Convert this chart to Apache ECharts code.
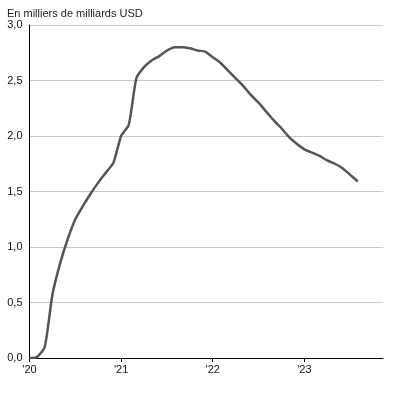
<!DOCTYPE html>
<html>
<head>
<meta charset="utf-8">
<script src="https://cdn.jsdelivr.net/npm/echarts@6/dist/echarts.min.js"></script>
<style>
html,body{margin:0;padding:0;background:#fff;}
#c{width:398px;height:393px;}
</style>
</head>
<body>
<div id="c"></div>
<script>
// Months since January 2020
const months = [0,1,2,3,4,5,6,7,8,9,10,11,12,13,14,15,16,17,18,19,20,21,22,23,24,25,26,27,28,29,30,31,32,33,34,35,36,37,38,39,40,41,42,43];
const values = [0.00,0.01,0.10,0.57,0.85,1.07,1.25,1.37,1.48,1.58,1.67,1.76,2.00,2.10,2.52,2.62,2.68,2.72,2.77,2.80,2.80,2.79,2.77,2.76,2.71,2.66,2.59,2.52,2.45,2.37,2.30,2.22,2.14,2.07,1.99,1.93,1.88,1.85,1.82,1.78,1.75,1.71,1.65,1.59];
const yearTicks = {0:"'20",12:"'21",24:"'22",36:"'23"};
const unitLabel = "En milliers de milliards USD";

const chart = echarts.init(document.getElementById('c'), null, {renderer:'canvas'});
chart.setOption({
  animation:false,
  backgroundColor:'#fff',
  textStyle:{fontFamily:'Liberation Sans, Arial, sans-serif'},
  title:{text:unitLabel,left:2,top:3,textStyle:{fontSize:11,fontWeight:'normal',color:'#222',fontFamily:'Liberation Sans, Arial, sans-serif'}},
  grid:{left:29.5,right:15,top:25,bottom:35,containLabel:false},
  xAxis:{type:'value',min:0,max:46.3,interval:12,
    axisLine:{show:true,onZero:false,lineStyle:{color:'#000',width:1}},
    axisTick:{show:true,length:4,lineStyle:{color:'#000'}},
    splitLine:{show:false},
    axisLabel:{showMaxLabel:false,color:'#111',fontSize:11,margin:6,formatter:v=>yearTicks[v]!==undefined?yearTicks[v]:''}},
  yAxis:{type:'value',min:0,max:3,interval:0.5,
    axisLine:{show:true,lineStyle:{color:'#000',width:1}},
    axisTick:{show:false},
    splitLine:{show:true,lineStyle:{color:'#c8c8c8',width:1}},
    axisLabel:{color:'#111',fontSize:11,margin:7,formatter:v=>v.toFixed(1).replace('.',',')}},
  series:[{type:'line',data:months.map((m,i)=>[m,values[i]]),showSymbol:false,smooth:0.2,
    lineStyle:{color:'#555555',width:2.5},z:3}]
});
</script>
</body>
</html>
